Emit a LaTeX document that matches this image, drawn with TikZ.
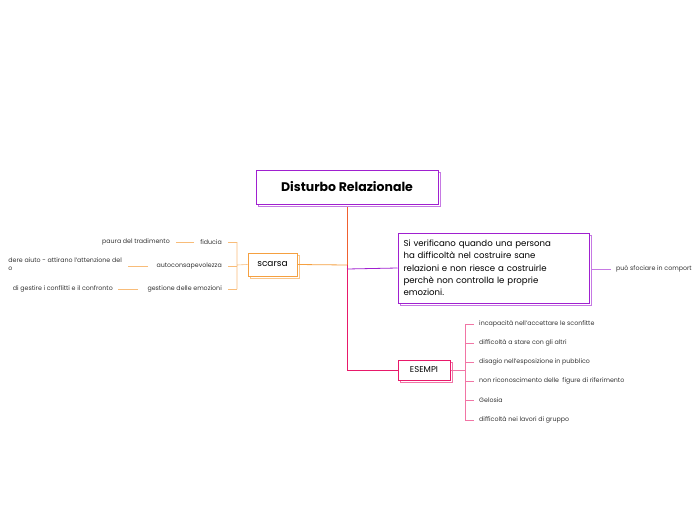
\documentclass[tikz,border=0pt]{standalone}
\usepackage{fontspec}
\setmainfont{Poppins}
\usetikzlibrary{shadows}
\definecolor{pur}{HTML}{A020D0}
\definecolor{org}{HTML}{F5A040}
\definecolor{pnk}{HTML}{E8196A}
\definecolor{trk}{HTML}{F06030}
\tikzset{x=1pt,y=-1pt,
 box/.style={draw=#1,line width=1pt,fill=white,inner sep=0pt,
   copy shadow={shadow xshift=2.5pt,shadow yshift=-2.5pt,draw=#1!60,fill=white,line width=1pt}},
 sm/.style={font=\fontsize{6.3}{8}\selectfont,text=black!80,inner sep=0pt},
 ol/.style={org!70,line width=0.6pt},
 pl/.style={pnk!60,line width=0.6pt},
}
\begin{document}
\begin{tikzpicture}
\useasboundingbox (0,0) rectangle (697,520);
\clip (0,0) rectangle (697,520);
% trunk
\draw[trk,line width=0.8pt] (347,204) -- (347,265);
\draw[pnk,line width=0.8pt] (347,265) -- (347,370);
\node[box=pur,minimum width=182pt,minimum height=34pt,font=\bfseries\fontsize{12.5}{15}\selectfont] (root) at (347,187) {Disturbo Relazionale};
\node[box=org,minimum width=49pt,minimum height=23pt,font=\fontsize{9}{11}\selectfont] (sc) at (272.5,264.5) {scarsa};
\node[box=pur,minimum width=191pt,minimum height=70pt,align=left,text width=180pt,font=\fontsize{8.6}{12.3}\selectfont] (sv) at (493.5,268) {\hyphenpenalty=10000 Si verificano quando una persona\\ha difficoltà nel costruire sane\\relazioni e non riesce a costruirle\\perchè non controlla le proprie\\emozioni.};
\node[box=pnk,minimum width=52pt,minimum height=20pt,font=\fontsize{8.5}{10}\selectfont] (es) at (424,370) {ESEMPI};
\draw[org,line width=0.8pt] (347,265) -- (sc.east);
\draw[pur,line width=0.8pt] (347,269) -- (sv.west);
\draw[pnk,line width=0.8pt] (347,370) -- (es.west);
% scarsa children
\draw[ol] (sc.west) -- (237,265) (237,242) -- (237,289);
\foreach \y/\t/\n in {242/fiducia/a,266/autoconsapevolezza/b,289/gestione delle emozioni/c}{
  \draw[ol] (237,\y) -- (228,\y);
  \node[sm,anchor=east] (s\n) at (222,\y) {\t};}
\node[sm,anchor=east] (pa) at (170,242) {paura del tradimento};
\draw[ol] (194,242) -- (176,242);
\node[sm,anchor=north east,align=left] (ch) at (122,258) {dere aiuto - attirano l'attenzione del\\o};
\draw[ol] (148,266) -- (128,266);
\node[sm,anchor=east] (ge) at (113,289) {di gestire i conflitti e il confronto};
\draw[ol] (138,289) -- (118,289);
% purple child
\node[sm,anchor=west] (ps) at (616,269) {può sfociare in comport};
\draw[pur!60,line width=0.6pt] (592,269) -- (611,269);
% esempi children
\draw[pl] (es.east) -- (465,370) (465,324) -- (465,420);
\foreach \y/\t/\n in {324/incapacità nell'accettare le sconfitte/1,343/difficoltà a stare con gli altri/2,362/disagio nell'esposizione in pubblico/3,381/non riconoscimento delle\ \ figure di riferimento/4,400/Gelosia/5,420/difficoltà nei lavori di gruppo/6}{
  \node[sm,anchor=west] (e\n) at (479,\y) {\t};
  \draw[pl] (465,\y) -- (474,\y);}
\end{tikzpicture}
\end{document}
